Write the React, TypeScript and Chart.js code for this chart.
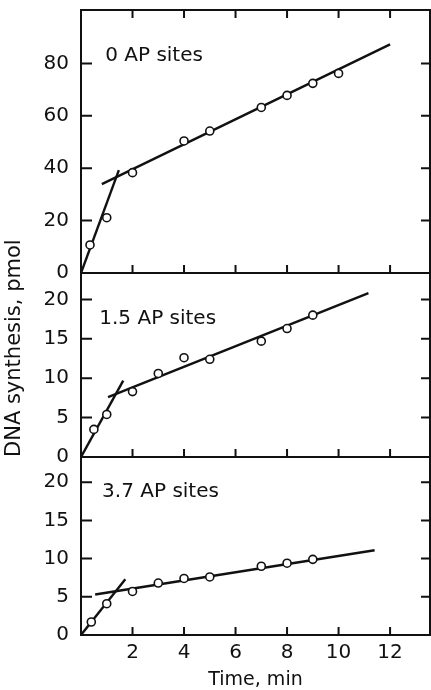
import React, { useEffect, useRef } from "react";
import { Chart, registerables } from "chart.js";

Chart.register(...registerables);

// ---- tick labels ----
const xTickValues = [2, 4, 6, 8, 10, 12];
const panel1YTicks = [0, 20, 40, 60, 80];
const panel2YTicks = [0, 5, 10, 15, 20];
const panel3YTicks = [0, 5, 10, 15, 20];

// ---- panel titles ----
const panelLabels = ["0 AP sites", "1.5 AP sites", "3.7 AP sites"];

// ---- measured points (time, min / DNA synthesis, pmol) ----
const time0 = [0.35, 1, 2, 4, 5, 7, 8, 9, 10];
const dna0 = [10.7, 21.1, 38.3, 50.4, 54.2, 63.2, 67.8, 72.4, 76.2];

const time15 = [0.5, 1, 2, 3, 4, 5, 7, 8, 9];
const dna15 = [3.5, 5.4, 8.3, 10.6, 12.6, 12.4, 14.7, 16.3, 18.0];

const time37 = [0.4, 1, 2, 3, 4, 5, 7, 8, 9];
const dna37 = [1.7, 4.1, 5.7, 6.8, 7.4, 7.6, 9.0, 9.4, 9.9];

// ---- fitted line end points ----
const fit0FastX = [0, 1.47];
const fit0FastY = [0, 39.3];
const fit0SlowX = [0.81, 12.0];
const fit0SlowY = [33.9, 87.3];

const fit15FastX = [0, 1.64];
const fit15FastY = [0, 9.7];
const fit15SlowX = [1.05, 11.16];
const fit15SlowY = [7.6, 20.8];

const fit37FastX = [0, 1.72];
const fit37FastY = [0, 7.3];
const fit37SlowX = [0.55, 11.4];
const fit37SlowY = [5.3, 11.1];

const zip = (xs: number[], ys: number[]) => xs.map((x, i) => ({ x, y: ys[i] }));

const INK = "#111111";
const FONT = "'DejaVu Sans', sans-serif";

const pointSet = (xs: number[], ys: number[], axis: string) => ({
  data: zip(xs, ys),
  yAxisID: axis,
  showLine: false,
  pointRadius: 4,
  pointHoverRadius: 4,
  pointBackgroundColor: "#ffffff",
  pointBorderColor: INK,
  pointBorderWidth: 1.6,
});

const lineSet = (xs: number[], ys: number[], axis: string) => ({
  data: zip(xs, ys),
  yAxisID: axis,
  showLine: true,
  pointRadius: 0,
  borderColor: INK,
  borderWidth: 2.4,
  fill: false,
});

const yScale = (max: number, weight: number, ticks: number[], withTitle: boolean) => ({
  type: "linear" as const,
  position: "left" as const,
  stack: "panels",
  stackWeight: weight,
  min: 0,
  max,
  grid: { display: false, drawTicks: false },
  border: { display: false },
  afterBuildTicks: (s: any) => {
    s.ticks = ticks.map((v) => ({ value: v }));
  },
  afterFit: (s: any) => {
    s.width = 81;
    s.paddingTop = 0;
    s.paddingBottom = 0;
  },
  ticks: {
    color: INK,
    padding: 12,
    autoSkip: false,
    font: { family: FONT, size: 20 },
  },
  title: withTitle
    ? {
        display: true,
        text: "DNA synthesis, pmol",
        align: "start" as const,
        color: INK,
        font: { family: FONT, size: 21 },
        padding: { top: 2, bottom: 0 },
      }
    : { display: false },
});

const panelTextPos = [
  { axis: "y1", x: 0.94, y: 82.8 },
  { axis: "y2", x: 0.71, y: 17.5 },
  { axis: "y3", x: 0.82, y: 18.7 },
];

const framePlugin = {
  id: "frame",
  afterDatasetsDraw(chart: any) {
    const { ctx, chartArea, scales } = chart;
    const xs = scales.x;
    const left = chartArea.left;
    const right = chartArea.right;
    ctx.save();
    ctx.strokeStyle = INK;
    ctx.lineWidth = 2;
    ["y1", "y2", "y3"].forEach((id, idx) => {
      const s = scales[id];
      ctx.strokeRect(left, s.top, right - left, s.bottom - s.top);
      ctx.beginPath();
      s.ticks.forEach((t: any) => {
        const py = s.getPixelForValue(t.value);
        if (Math.abs(py - s.bottom) < 2 || Math.abs(py - s.top) < 2) return;
        ctx.moveTo(left, py);
        ctx.lineTo(left + 11, py);
        ctx.moveTo(right, py);
        ctx.lineTo(right - 9, py);
      });
      xs.ticks.forEach((t: any) => {
        const px = xs.getPixelForValue(t.value);
        ctx.moveTo(px, s.bottom);
        ctx.lineTo(px, s.bottom - 8);
        if (idx === 0) {
          ctx.moveTo(px, s.top);
          ctx.lineTo(px, s.top + 8);
        }
      });
      ctx.stroke();
    });
    ctx.fillStyle = INK;
    ctx.font = `20px ${FONT}`;
    ctx.textBaseline = "middle";
    ctx.textAlign = "left";
    panelTextPos.forEach((p, i) => {
      const s = scales[p.axis];
      ctx.fillText(panelLabels[i], xs.getPixelForValue(p.x), s.getPixelForValue(p.y));
    });
    ctx.restore();
  },
};

export default function App() {
  const ref = useRef<HTMLCanvasElement>(null);
  useEffect(() => {
    if (!ref.current) return;
    const chart = new Chart(ref.current, {
      type: "scatter",
      data: {
        datasets: [
          pointSet(time0, dna0, "y1"),
          pointSet(time15, dna15, "y2"),
          pointSet(time37, dna37, "y3"),
          lineSet(fit0FastX, fit0FastY, "y1"),
          lineSet(fit0SlowX, fit0SlowY, "y1"),
          lineSet(fit15FastX, fit15FastY, "y2"),
          lineSet(fit15SlowX, fit15SlowY, "y2"),
          lineSet(fit37FastX, fit37FastY, "y3"),
          lineSet(fit37SlowX, fit37SlowY, "y3"),
        ] as any,
      },
      options: {
        animation: false,
        responsive: false,
        devicePixelRatio: 1,
        layout: { autoPadding: false, padding: { top: 10, right: 1, left: 0, bottom: 0 } },
        plugins: { legend: { display: false }, tooltip: { enabled: false } },
        scales: {
          x: {
            type: "linear",
            position: "bottom",
            min: 0,
            max: 13.55,
            grid: { display: false, drawTicks: false },
            border: { display: false },
            afterBuildTicks: (s: any) => {
              s.ticks = xTickValues.map((v) => ({ value: v }));
            },
            afterFit: (s: any) => {
              s.height = 55;
              s.paddingLeft = 0;
              s.paddingRight = 0;
            },
            ticks: {
              color: INK,
              padding: 6,
              maxRotation: 0,
              autoSkip: false,
              font: { family: FONT, size: 20 },
            },
            title: {
              display: true,
              text: "Time, min",
              color: INK,
              font: { family: FONT, size: 19, lineHeight: 1.0 },
              padding: { top: 0, bottom: 0 },
            },
          },
          y3: yScale(23.3, 178, panel3YTicks, false),
          y2: yScale(23.35, 184, panel2YTicks, true),
          y1: yScale(100.4, 263, panel1YTicks, false),
        } as any,
      },
      plugins: [framePlugin],
    });
    return () => chart.destroy();
  }, []);
  return (
    <div style={{ position: "absolute", left: 0, top: 0, width: 431, height: 690, background: "#fff" }}>
      <canvas ref={ref} width={431} height={690} />
    </div>
  );
}
